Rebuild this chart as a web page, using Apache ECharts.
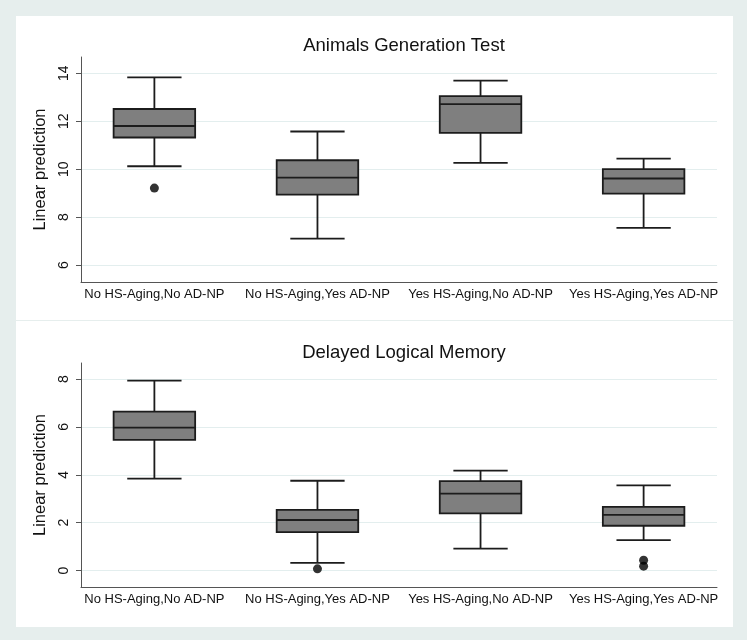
<!DOCTYPE html>
<html>
<head>
<meta charset="utf-8">
<script src="https://cdn.jsdelivr.net/npm/echarts@6/dist/echarts.min.js"></script>
<style>
  html, body { margin: 0; padding: 0; background: #ffffff; }
  #chart { width: 750px; height: 643px; }
</style>
</head>
<body>
<div id="chart"></div>
<script>
// categories shared by both panels
const categories = [
  'No HS-Aging,No AD-NP',
  'No HS-Aging,Yes AD-NP',
  'Yes HS-Aging,No AD-NP',
  'Yes HS-Aging,Yes AD-NP'
]

// box values per category: [lower whisker, Q1, median, Q3, upper whisker]
const animalsBoxes = [
  [10.12, 11.32, 11.80, 12.51, 13.83],
  [7.10, 8.94, 9.65, 10.37, 11.57],
  [10.26, 11.51, 12.71, 13.05, 13.69],
  [7.55, 8.98, 9.61, 10.00, 10.44]
]
// outliers: [category index, value]
const animalsOutliers = [[0, 9.21]]
const animalsTicks = [6, 8, 10, 12, 14]

const memoryBoxes = [
  [3.84, 5.46, 5.97, 6.64, 7.93],
  [0.32, 1.60, 2.11, 2.53, 3.75],
  [0.91, 2.39, 3.21, 3.73, 4.17],
  [1.27, 1.87, 2.32, 2.66, 3.56]
]
const memoryOutliers = [[1, 0.07], [3, 0.43], [3, 0.18]]
const memoryTicks = [0, 2, 4, 6, 8]

const titles = ['Animals Generation Test', 'Delayed Logical Memory']
const yName = 'Linear prediction'

const FONT = '"Liberation Sans", Arial, sans-serif'
const STROKE = '#1c1c1c'

const chart = echarts.init(document.getElementById('chart'), null, { renderer: 'canvas' })

// stata style box: narrower caps than the box
const renderBox = (params, api) => {
  const x = api.value(0)
  const lo = api.coord([x, api.value(1)])
  const q1 = api.coord([x, api.value(2)])
  const med = api.coord([x, api.value(3)])
  const q3 = api.coord([x, api.value(4)])
  const hi = api.coord([x, api.value(5)])
  const bw = api.size([0.5, 0])[0]
  const cw = api.size([0.333, 0])[0]
  const cx = lo[0]
  const lineStyle = { stroke: STROKE, lineWidth: 1.8 }
  return {
    type: 'group',
    children: [
      { type: 'line', shape: { x1: cx, y1: lo[1], x2: cx, y2: q1[1] }, style: lineStyle },
      { type: 'line', shape: { x1: cx, y1: q3[1], x2: cx, y2: hi[1] }, style: lineStyle },
      { type: 'line', shape: { x1: cx - cw / 2, y1: lo[1], x2: cx + cw / 2, y2: lo[1] }, style: lineStyle },
      { type: 'line', shape: { x1: cx - cw / 2, y1: hi[1], x2: cx + cw / 2, y2: hi[1] }, style: lineStyle },
      {
        type: 'rect',
        shape: { x: cx - bw / 2, y: q3[1], width: bw, height: q1[1] - q3[1] },
        style: { fill: '#7f7f7f', stroke: STROKE, lineWidth: 1.8 }
      },
      { type: 'line', shape: { x1: cx - bw / 2, y1: med[1], x2: cx + bw / 2, y2: med[1] }, style: lineStyle }
    ]
  }
}

const makeX = (gridIndex) => ({
  type: 'value',
  gridIndex: gridIndex,
  min: -0.45,
  max: 3.45,
  axisLine: { show: true, onZero: false, lineStyle: { color: '#555', width: 1 } },
  axisTick: { show: false },
  splitLine: { show: false },
  axisLabel: {
    customValues: [0, 1, 2, 3],
    formatter: (v) => categories[Math.round(v)] || '',
    color: '#111',
    fontFamily: FONT,
    fontSize: 13,
    margin: 6
  }
})

const makeY = (gridIndex, min, max, ticks) => ({
  type: 'value',
  gridIndex: gridIndex,
  min: min,
  max: max,
  name: yName,
  nameLocation: 'middle',
  nameGap: 27,
  nameTextStyle: { color: '#111', fontFamily: FONT, fontSize: 16.5 },
  axisLine: { show: true, onZero: false, lineStyle: { color: '#555', width: 1 } },
  axisTick: { show: true, length: 5, customValues: ticks, lineStyle: { color: '#555' } },
  axisLabel: {
    customValues: ticks,
    rotate: 90,
    color: '#111',
    fontFamily: FONT,
    fontSize: 14,
    margin: 10
  },
  splitLine: { show: true, lineStyle: { color: '#e3eeee', width: 1 } }
})

const boxData = (boxes) => boxes.map((b, i) => [i].concat(b))

const option = {
  backgroundColor: '#ffffff',
  animation: false,
  graphic: [
    { type: 'rect', z: -10, shape: { x: 0, y: 0, width: 747, height: 640 }, style: { fill: '#e6eeed' } },
    { type: 'rect', z: -9, shape: { x: 16, y: 16, width: 717, height: 304 }, style: { fill: '#ffffff' } },
    { type: 'rect', z: -9, shape: { x: 16, y: 321, width: 717, height: 306 }, style: { fill: '#ffffff' } }
  ],
  title: [
    {
      text: titles[0], left: 399, top: 31, textAlign: 'center',
      textStyle: { fontFamily: FONT, fontSize: 18.5, fontWeight: 'normal', color: '#111' }
    },
    {
      text: titles[1], left: 399, top: 338, textAlign: 'center',
      textStyle: { fontFamily: FONT, fontSize: 18.5, fontWeight: 'normal', color: '#111' }
    }
  ],
  grid: [
    { left: 81, right: 33, top: 57, height: 225, containLabel: false },
    { left: 81, right: 33, top: 363, height: 224, containLabel: false }
  ],
  xAxis: [makeX(0), makeX(1)],
  yAxis: [
    makeY(0, 5.29, 14.68, animalsTicks),
    makeY(1, -0.69, 8.67, memoryTicks)
  ],
  series: [
    {
      type: 'custom', xAxisIndex: 0, yAxisIndex: 0,
      renderItem: renderBox,
      encode: { x: 0, y: [1, 2, 3, 4, 5] },
      data: boxData(animalsBoxes)
    },
    {
      type: 'scatter', xAxisIndex: 0, yAxisIndex: 0,
      symbolSize: 9, itemStyle: { color: '#000' },
      data: animalsOutliers
    },
    {
      type: 'custom', xAxisIndex: 1, yAxisIndex: 1,
      renderItem: renderBox,
      encode: { x: 0, y: [1, 2, 3, 4, 5] },
      data: boxData(memoryBoxes)
    },
    {
      type: 'scatter', xAxisIndex: 1, yAxisIndex: 1,
      symbolSize: 9, itemStyle: { color: '#000' },
      data: memoryOutliers
    }
  ]
}

chart.setOption(option)

window.addEventListener('resize', () => chart.resize())
</script>
</body>
</html>
